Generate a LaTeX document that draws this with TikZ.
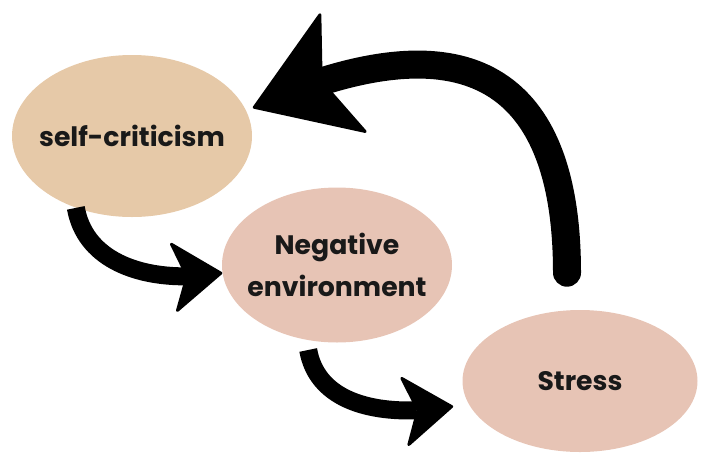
\documentclass[tikz,border=0pt]{standalone}
\usepackage{fontspec}
\setmainfont{Poppins}
\usetikzlibrary{shapes.geometric,arrows.meta,bending,positioning}
\definecolor{sand}{RGB}{230,201,168}
\definecolor{blush}{RGB}{231,196,181}

\begin{document}
\begin{tikzpicture}[
    node distance=3cm and 5cm, on grid,
    blob/.style={ellipse, fill=#1, draw=none, inner sep=0pt},
    txt/.style={font=\fontsize{19}{30}\selectfont\bfseries, align=center, text=black!90},
    fwd/.style={line width=0.45cm, -{Stealth[length=1.3cm, width=1.85cm, inset=0.35cm, round, line width=2pt]}},
    feedback/.style={line width=0.7cm, line cap=round, -{Stealth[length=2.5cm, width=3.3cm, inset=0.6cm, round, line width=2pt]}}
]
\useasboundingbox (0,0) rectangle (17.55,-11.425);

\node[blob=sand, minimum width=6cm, minimum height=4.05cm, label={[txt]center:self-criticism}] (selfcrit) at (3.3,-3.4) {};
\node[blob=blush, minimum width=5.75cm, minimum height=3.875cm, below right=3.225cm and 5.125cm of selfcrit, label={[txt]center:Negative\\environment}] (negenv) {};
\node[blob=blush, minimum width=5.875cm, minimum height=3.55cm, below right=2.9cm and 6.075cm of negenv, label={[txt]center:Stress}] (stress) {};

\draw[fwd] (selfcrit.232) to[out=-80, in=190] (negenv.184);
\draw[fwd] ([xshift=-0.72cm, yshift=-0.18cm]negenv.south) to[out=-80, in=190] ([xshift=-0.42cm]stress.193);
\draw[feedback] ([shift={(-0.325,0.925)}]stress.north) to[out=90, in=24, out distance=4.25cm, in distance=6.5cm] ([xshift=0.2cm]selfcrit.14);
\end{tikzpicture}
\end{document}
